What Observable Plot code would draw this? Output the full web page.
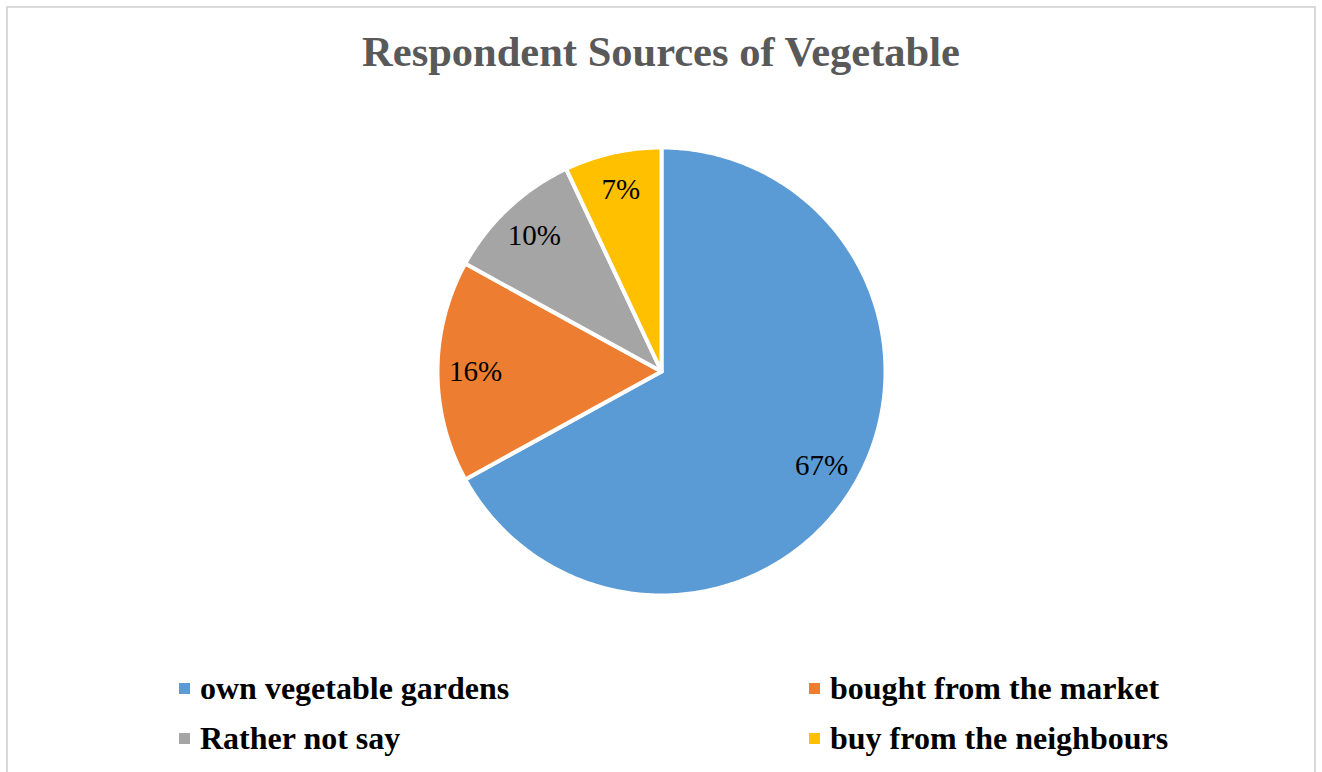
<!DOCTYPE html>
<html>
<head>
<meta charset="utf-8">
<script src="https://cdn.jsdelivr.net/npm/d3@7"></script>
<script src="https://cdn.jsdelivr.net/npm/@observablehq/plot@0.6"></script>
<style>
  html, body { margin: 0; padding: 0; background: #fff; overflow: hidden; }
  #wrap { position: relative; width: 1322px; height: 772px; overflow: hidden; }
  #frame { position: absolute; left: 6px; top: 6px; width: 1306px; height: 800px; border: 2px solid #d9d9d9; }
  #title { position: absolute; left: 0; width: 1322px; top: 26px; text-align: center;
           font-family: "Liberation Serif", "Times New Roman", serif; font-weight: bold; font-size: 42.5px; color: #595959; line-height: 52px; }
  #chart { position: absolute; left: 0; top: 0; }
  .leg { position: absolute; font-family: "Liberation Serif", "Times New Roman", serif; font-weight: bold; font-size: 32px; color: #000; line-height: 36px; white-space: nowrap; }
  .sw { position: absolute; width: 11px; height: 11px; }
</style>
</head>
<body>
<div id="wrap">
  <div id="frame"></div>
  <div id="chart"></div>
  <div id="title">Respondent Sources of Vegetable</div>
  <div id="legend"></div>
</div>
<script>
// ---- data ----
const categories = ["own vegetable gardens", "bought from the market", "Rather not say", "buy from the neighbours"];
const values = [67, 16, 10, 7];
const labels = ["67%", "16%", "10%", "7%"];
const colors = ["#5B9BD5", "#ED7D31", "#A5A5A5", "#FFC000"];

// ---- geometry in unit coordinates ----
const arcs = d3.pie().sort(null).value(d => d.value)(categories.map((c, i) => ({cat: c, value: values[i], label: labels[i]})));
const pts = [];
arcs.forEach(a => {
  const cat = a.data.cat;
  pts.push({cat, x: 0, y: 0});
  const n = Math.max(8, Math.ceil((a.endAngle - a.startAngle) / 0.01));
  for (let k = 0; k <= n; k++) {
    const t = a.startAngle + (a.endAngle - a.startAngle) * k / n;
    pts.push({cat, x: Math.sin(t), y: Math.cos(t)});
  }
  pts.push({cat, x: 0, y: 0});
});
const lab = arcs.map(a => {
  const m = (a.startAngle + a.endAngle) / 2, r = 0.83;
  return {x: r * Math.sin(m), y: r * Math.cos(m), text: a.data.label};
});

const cx = 661, cy = 371, R = 224;
const chart = Plot.plot({
  width: 1322, height: 772,
  marginTop: 0, marginRight: 0, marginBottom: 0, marginLeft: 0,
  x: {domain: [-1, 1], range: [cx - R, cx + R], axis: null},
  y: {domain: [-1, 1], range: [cy + R, cy - R], axis: null},
  color: {domain: categories, range: colors},
  style: {background: "transparent"},
  marks: [
    Plot.line(pts, {x: "x", y: "y", z: "cat", fill: "cat", stroke: "white", strokeWidth: 4, strokeLinejoin: "round"}),
    Plot.text(lab, {x: "x", y: "y", text: "text", fontSize: 29, fontFamily: "Liberation Serif, Times New Roman, serif", fill: "#000"})
  ]
});
document.getElementById("chart").appendChild(chart);

// ---- legend ----
const legPos = [[179, 683], [809, 683], [179, 733], [809, 733]];
const legend = document.getElementById("legend");
categories.forEach((c, i) => {
  const [lx, ly] = legPos[i];
  const sw = document.createElement("div");
  sw.className = "sw"; sw.style.left = lx + "px"; sw.style.top = ly + "px"; sw.style.background = colors[i];
  legend.appendChild(sw);
  const t = document.createElement("div");
  t.className = "leg"; t.style.left = (lx + 21) + "px"; t.style.top = (ly - 13) + "px"; t.textContent = c;
  legend.appendChild(t);
});
</script>
</body>
</html>
